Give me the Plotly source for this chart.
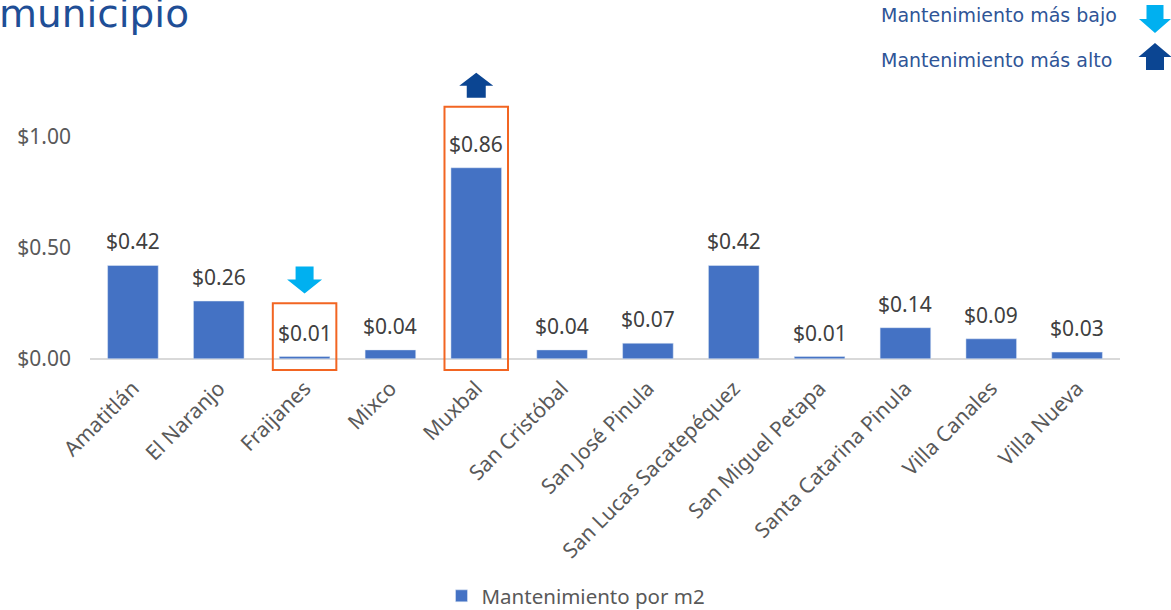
import plotly.graph_objects as go

municipios = ["Amatitlán", "El Naranjo", "Fraijanes", "Mixco", "Muxbal", "San Cristóbal",
              "San José Pinula", "San Lucas Sacatepéquez", "San Miguel Petapa",
              "Santa Catarina Pinula", "Villa Canales", "Villa Nueva"]
mantenimiento = [0.42, 0.26, 0.01, 0.04, 0.86, 0.04, 0.07, 0.42, 0.01, 0.14, 0.09, 0.03]
serie = "Mantenimiento por m2"
titulo = "municipio"
leyenda_bajo = "Mantenimiento más bajo"
leyenda_alto = "Mantenimiento más alto"

colors = {
    'bar': '#4472C4',
    'text': '#595959',
    'orange': '#F26522',
    'low': '#00B0F0',
    'high': '#0B4592',
    'title': '#1F4E96',
}

# plot area in pixels (used to place the decorations)
L, R, T, B = 90, 51, 70, 239
W, H = 1171, 610
pw, ph = W - L - R, H - T - B


def px_x(p):
    return (p - L) / pw


def px_y(p):
    return (H - B - p) / ph


def arrow_path(cx, y0, y1, w, sw, head, up):
    """block arrow: y0 is the tip, y1 the tail end (data units)"""
    d = -1 if up else 1  # direction from tip towards tail
    hb = y0 + d * head
    pts = [(cx, y0), (cx - w / 2, hb), (cx - sw / 2, hb), (cx - sw / 2, y1),
           (cx + sw / 2, y1), (cx + sw / 2, hb), (cx + w / 2, hb)]
    return "M " + " L ".join(f"{x},{y}" for x, y in pts) + " Z"


fig = go.Figure(go.Bar(
    x=municipios,
    y=mantenimiento,
    name=serie,
    marker_color=colors['bar'],
    showlegend=True,
    hovertemplate='%{x}: $%{y:.2f}<extra></extra>',
))

annotations = []
# value labels above the bars
for m, v in zip(municipios, mantenimiento):
    annotations.append(dict(x=m, y=v, xref='x', yref='y', text=f"${v:.2f}",
                            showarrow=False, yanchor='bottom', yshift=8,
                            font=dict(size=21, color='#404040')))

shapes = []
i_min = mantenimiento.index(min(mantenimiento))
i_max = mantenimiento.index(max(mantenimiento))
px_unit = ph / 1.355  # pixels per value unit
cat_unit = pw / len(municipios)

for i, pad in ((i_min, 0.24), (i_max, 0.275)):
    shapes.append(dict(type='rect', xref='x', yref='y',
                       x0=i - 0.37, x1=i + 0.37, y0=-0.05, y1=mantenimiento[i] + pad,
                       line=dict(color=colors['orange'], width=2)))

# arrow above lowest
v = mantenimiento[i_min]
shapes.append(dict(type='path', xref='x', yref='y', line_width=0, fillcolor=colors['low'],
                   path=arrow_path(i_min, v + 63 / px_unit, v + 90 / px_unit,
                                   35 / cat_unit, 18 / cat_unit, 14 / px_unit, up=False)))
# arrow above highest
v = mantenimiento[i_max]
shapes.append(dict(type='path', xref='x', yref='y', line_width=0, fillcolor=colors['high'],
                   path=arrow_path(i_max, v + 95 / px_unit, v + 70 / px_unit,
                                   34 / cat_unit, 19 / cat_unit, 13 / px_unit, up=True)))


# legend arrows top right (paper coords)
def paper_arrow(cx, ytip, ytail, w, sw, head, up, color):
    d = 1 if up else -1
    hb = ytip + d * head
    pts = [(cx, ytip), (cx - w / 2, hb), (cx - sw / 2, hb), (cx - sw / 2, ytail),
           (cx + sw / 2, ytail), (cx + sw / 2, hb), (cx + w / 2, hb)]
    path = "M " + " L ".join(f"{px_x(x):.5f},{px_y(y):.5f}" for x, y in pts) + " Z"
    return dict(type='path', xref='paper', yref='paper', path=path,
                fillcolor=color, line_width=0)


shapes.append(paper_arrow(1155, 33, 5, 32, 17, 14, False, colors['low']))
shapes.append(paper_arrow(1155, 43, 70, 33, 18, 14, True, colors['high']))

annotations += [
    dict(text=titulo, xref='paper', yref='paper', x=px_x(-3), y=px_y(38),
         xanchor='left', yanchor='bottom', showarrow=False,
         font=dict(family='DejaVu Sans', size=39, color=colors['title'])),
    dict(text=leyenda_bajo, xref='paper', yref='paper', x=px_x(879), y=px_y(15),
         xanchor='left', yanchor='middle', showarrow=False,
         font=dict(family='DejaVu Sans', size=19, color='#2F5597')),
    dict(text=leyenda_alto, xref='paper', yref='paper', x=px_x(879), y=px_y(60),
         xanchor='left', yanchor='middle', showarrow=False,
         font=dict(family='DejaVu Sans', size=19, color='#2F5597')),
]

fig.update_layout(
    width=W, height=H,
    margin=dict(l=L, r=R, t=T, b=B, autoexpand=False),
    plot_bgcolor='white',
    paper_bgcolor='white',
    font=dict(family='Noto Sans', color=colors['text']),
    bargap=0.41,
    shapes=shapes,
    annotations=annotations,
    legend=dict(orientation='h', x=px_x(576), xanchor='center', y=px_y(596), yanchor='middle',
                font=dict(size=20.5, color=colors['text'])),
    xaxis=dict(tickangle=-45, tickfont=dict(size=21, color=colors['text']),
               showline=False, showgrid=False, ticks='', automargin=False),
    yaxis=dict(range=[-0.055, 1.3], tickvals=[0, 0.5, 1.0], tickformat='$.2f',
               tickfont=dict(size=21, color=colors['text']), showgrid=False,
               zeroline=True, zerolinecolor='#D9D9D9', zerolinewidth=1.5,
               ticklabelstandoff=18, automargin=False),
)

# drop the default page margin so the figure sits at the window's corner
fig.write_html("out.html", config={'displayModeBar': False},
               post_script="document.body.style.margin='0';")
